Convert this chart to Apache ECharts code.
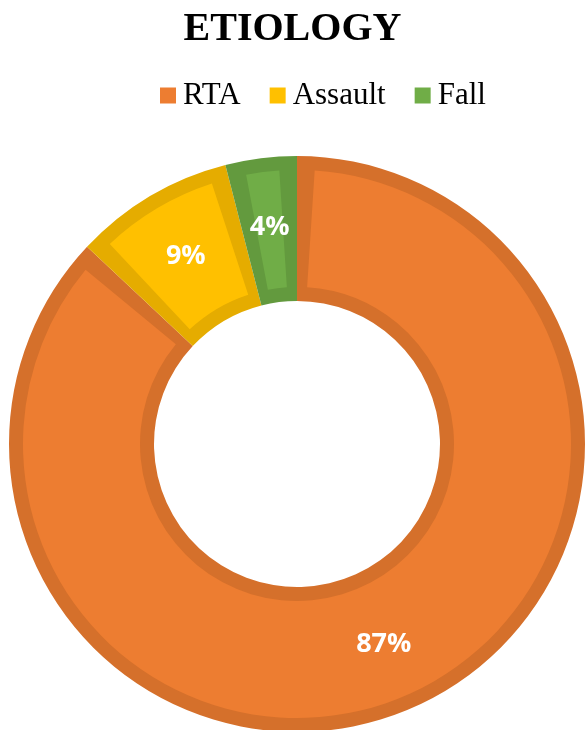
<!DOCTYPE html>
<html>
<head>
<meta charset="utf-8">
<script src="https://cdn.jsdelivr.net/npm/echarts@6/dist/echarts.min.js"></script>
<style>
  html, body { margin: 0; padding: 0; background: #fff; }
  #main { width: 585px; height: 730px; }
</style>
</head>
<body>
<div id="main"></div>
<script>
// data
var causes = ['RTA', 'Assault', 'Fall'];
var shares = [87, 9, 4];
var fillColors = ['#ED7D31', '#FFC000', '#70AD47'];
var edgeColors = ['#D5702B', '#E5AC00', '#639A3E'];

var outerData = [], innerData = [], legendData = [];
for (var i = 0; i < causes.length; i++) {
	outerData.push({ name: causes[i], value: shares[i], itemStyle: { color: edgeColors[i] } });
	innerData.push({ name: causes[i], value: shares[i], itemStyle: { color: fillColors[i] } });
	legendData.push({ name: causes[i], icon: 'rect', itemStyle: { color: fillColors[i] } });
}

var chart = echarts.init(document.getElementById('main'));
chart.setOption({
	animation: false,
	title: {
		text: 'ETIOLOGY',
		left: 'center',
		top: 5,
		textStyle: {
			fontFamily: 'Liberation Serif',
			fontWeight: 'bold',
			fontSize: 40,
			color: '#000'
		}
	},
	legend: {
		data: legendData,
		left: 155,
		top: 75,
		itemWidth: 16,
		itemHeight: 16,
		itemGap: 29,
		selectedMode: false,
		textStyle: {
			fontFamily: 'Liberation Serif',
			fontSize: 31,
			color: '#000',
			padding: [0, 0, 0, 2]
		}
	},
	series: [
		{
			type: 'pie',
			silent: true,
			center: [297, 444],
			radius: [143, 288],
			startAngle: 90,
			clockwise: true,
			label: { show: false },
			labelLine: { show: false },
			data: outerData
		},
		{
			type: 'pie',
			silent: true,
			center: [297, 444],
			radius: [157, 274],
			startAngle: 90,
			clockwise: true,
			padAngle: 7.4,
			label: {
				show: true,
				position: 'inside',
				formatter: '{c}%',
				color: '#fff',
				fontFamily: 'Open Sans',
				fontWeight: 'bold',
				fontSize: 27
			},
			labelLine: { show: false },
			data: innerData
		}
	]
});
</script>
</body>
</html>
